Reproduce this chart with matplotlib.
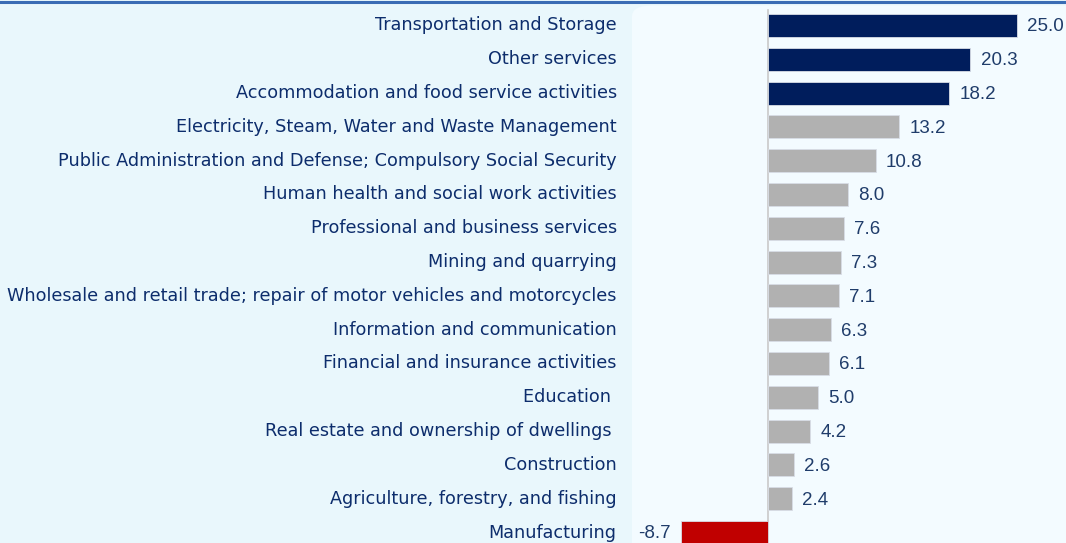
import matplotlib
matplotlib.use("Agg")
import matplotlib.pyplot as plt
from matplotlib.patches import FancyBboxPatch
from matplotlib.transforms import ScaledTranslation

# data, top to bottom
sectors = [
    "Transportation and Storage",
    "Other services",
    "Accommodation and food service activities",
    "Electricity, Steam, Water and Waste Management",
    "Public Administration and Defense; Compulsory Social Security",
    "Human health and social work activities",
    "Professional and business services",
    "Mining and quarrying",
    "Wholesale and retail trade; repair of motor vehicles and motorcycles",
    "Information and communication",
    "Financial and insurance activities",
    "Education ",
    "Real estate and ownership of dwellings ",
    "Construction",
    "Agriculture, forestry, and fishing",
    "Manufacturing",
]
growth = [25.0, 20.3, 18.2, 13.2, 10.8, 8.0, 7.6, 7.3, 7.1, 6.3, 6.1, 5.0, 4.2, 2.6, 2.4, -8.7]

NAVY, GREY, RED = "#001d5c", "#b1b1b1", "#c00000"
BG, PANEL = "#e9f7fc", "#f3fbff"
LABEL_C, VALUE_C = "#0d2d6c", "#1f3c6a"

W, H = 1066, 543
fig = plt.figure(figsize=(W / 100, H / 100), dpi=100, facecolor=BG)

# lighter panel behind the bars
fig.patches.append(FancyBboxPatch((632 / W, -0.05), (W - 632) / W + 0.05, 1.04,
                                  boxstyle="round,pad=0,rounding_size=0.02",
                                  transform=fig.transFigure, facecolor=PANEL,
                                  edgecolor="none", zorder=-5))

x0 = 632
ax = fig.add_axes([x0 / W, 0, (W - x0) / W, 1])
ax.set_zorder(2)
ax.patch.set_alpha(0)
px_per_unit = 9.96
ax.set_xlim(-(768 - x0) / px_per_unit, (W - 768) / px_per_unit)
row = 33.8
ax.set_ylim((H - 25.5) / row, -25.5 / row)

colors = [NAVY] * 3 + [GREY] * 12 + [RED]
ypos = list(range(len(sectors)))
ax.barh(ypos, growth, height=0.68, color=colors, edgecolor="#d8dde6", linewidth=0.6, zorder=2)
ax.axvline(0, ymin=0, ymax=1 - 10 / H, color="#c9c9c9", lw=1.2, zorder=1)

for y, v in zip(ypos, growth):
    if v >= 0:
        ax.text(v + 1.05, y + 0.04, f"{v:.1f}", ha="left", va="center", fontsize=13.5,
                family="Liberation Sans", color=VALUE_C)
    else:
        ax.text(v - 1.1, y + 0.04, f"{v:.1f}", ha="right", va="center", fontsize=13.5,
                family="Liberation Sans", color=VALUE_C)

ax.set_yticks(ypos)
ax.set_yticklabels(sectors, fontsize=12.7, color=LABEL_C, family="DejaVu Sans")
ax.tick_params(axis="y", length=0, pad=11)
nudge = ScaledTranslation(0, 2 / 100, fig.dpi_scale_trans)
for lab in ax.get_yticklabels():
    lab.set_transform(lab.get_transform() + nudge)
ax.set_xticks([])
for s in ax.spines.values():
    s.set_visible(False)

# thin blue rule across the top
fig.add_artist(plt.Line2D([0, 1], [1 - 1.5 / H, 1 - 1.5 / H], transform=fig.transFigure,
                          color="#3a6cb4", lw=2.2))

fig.savefig("out.png", dpi=100, facecolor=BG)
